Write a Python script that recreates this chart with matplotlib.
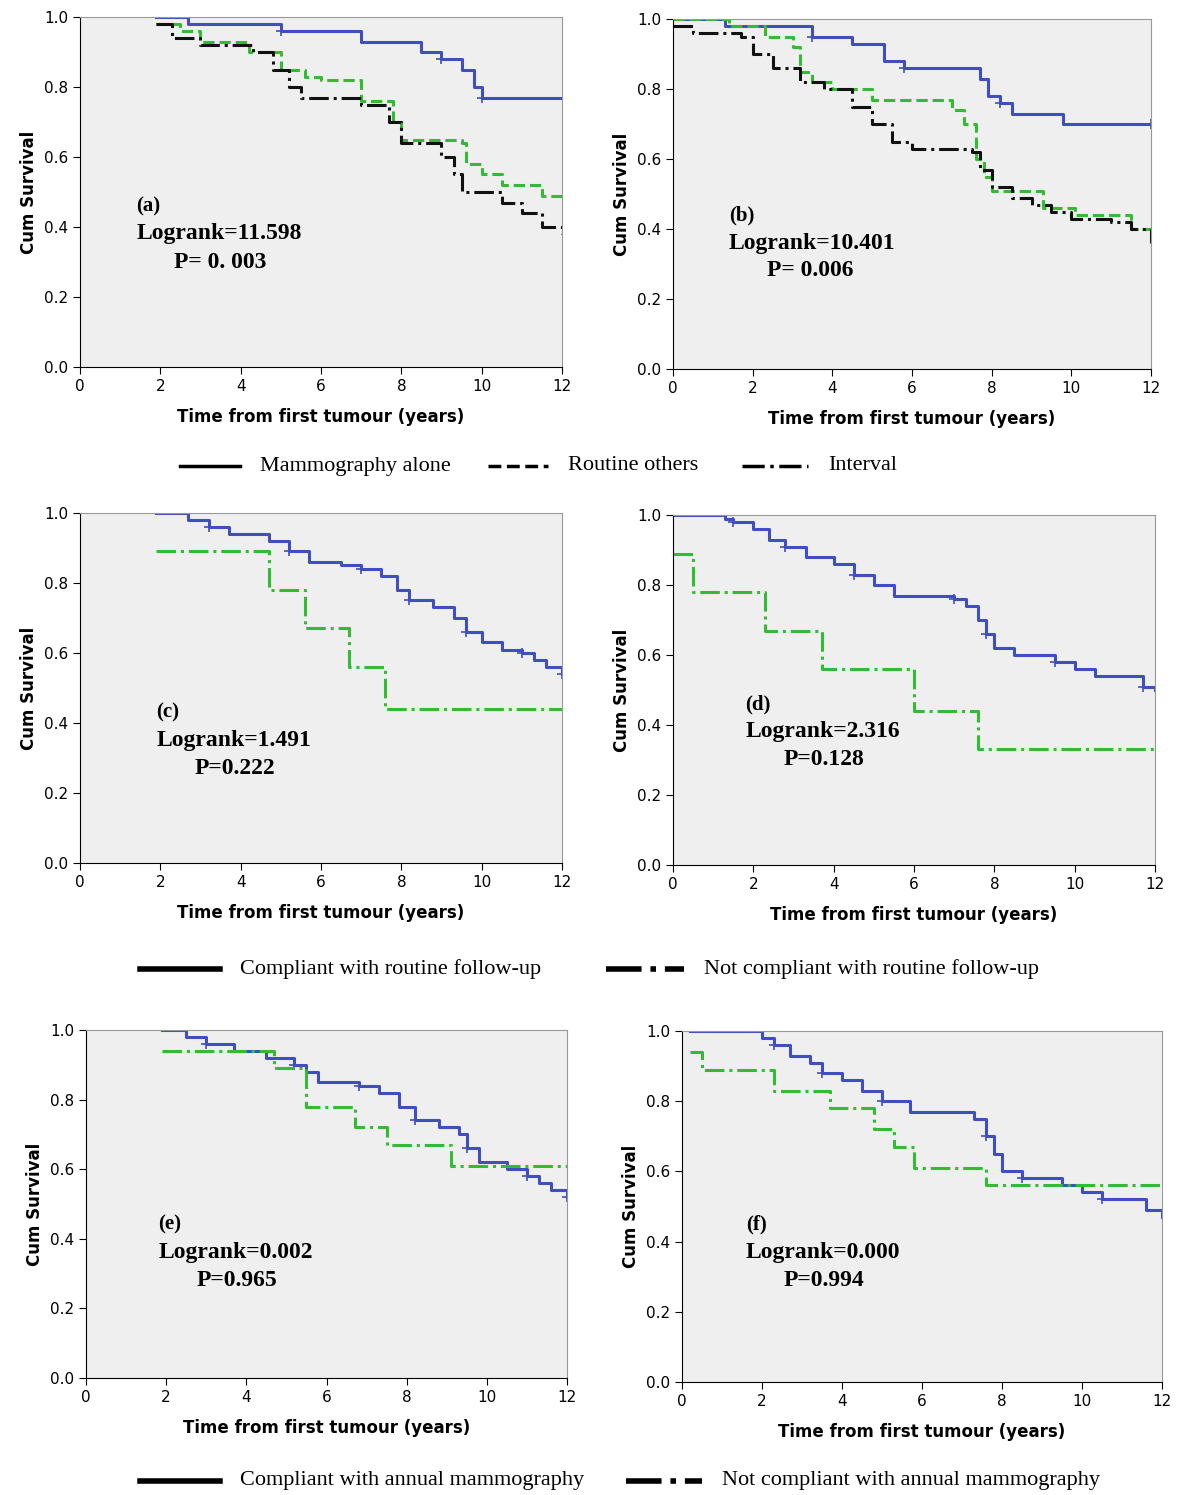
import matplotlib
matplotlib.use("Agg")
import matplotlib.pyplot as plt
from matplotlib.lines import Line2D

W, H = 1178, 1495

BLUE = "#3f4fbf"
GREEN = "#33bb33"
BLACK = "#111111"

a_blue_t = [1.9, 2.7, 5.0, 7.0, 8.5, 9.0, 9.5, 9.8, 10.0, 12]
a_blue_s = [1.0, 0.98, 0.96, 0.93, 0.90, 0.88, 0.85, 0.80, 0.77, 0.77]
a_green_t = [1.9, 2.5, 3.0, 4.2, 5.0, 5.6, 6.0, 7.0, 7.8, 8.0, 9.5, 9.6, 10.0, 10.5, 11.5, 12]
a_green_s = [0.98, 0.96, 0.93, 0.90, 0.85, 0.83, 0.82, 0.76, 0.70, 0.65, 0.64, 0.58, 0.55, 0.52, 0.49, 0.49]
a_black_t = [1.9, 2.3, 3.0, 4.3, 4.8, 5.2, 5.5, 7.0, 7.7, 8.0, 9.0, 9.3, 9.5, 10.5, 11.0, 11.5, 12]
a_black_s = [0.98, 0.94, 0.92, 0.90, 0.85, 0.80, 0.77, 0.75, 0.70, 0.64, 0.60, 0.55, 0.50, 0.47, 0.44, 0.40, 0.38]

b_blue_t = [0, 1.3, 3.5, 4.5, 5.3, 5.8, 7.7, 7.9, 8.2, 8.5, 9.8, 12]
b_blue_s = [1.0, 0.98, 0.95, 0.93, 0.88, 0.86, 0.83, 0.78, 0.76, 0.73, 0.70, 0.70]
b_green_t = [0, 1.4, 2.3, 3.0, 3.2, 3.5, 4.0, 5.0, 5.5, 7.0, 7.3, 7.6, 7.8, 8.0, 9.2, 9.3, 10.1, 11.5, 12]
b_green_s = [1.0, 0.98, 0.95, 0.92, 0.85, 0.82, 0.80, 0.77, 0.77, 0.74, 0.70, 0.60, 0.55, 0.51, 0.51, 0.46, 0.44, 0.40, 0.37]
b_black_t = [0, 0.5, 1.7, 2.0, 2.5, 3.2, 3.8, 4.5, 5.0, 5.5, 6.0, 7.5, 7.7, 8.0, 8.5, 9.0, 9.5, 10.0, 11.0, 11.5, 12]
b_black_s = [0.98, 0.96, 0.95, 0.90, 0.86, 0.82, 0.80, 0.75, 0.70, 0.65, 0.63, 0.62, 0.57, 0.52, 0.49, 0.47, 0.45, 0.43, 0.42, 0.40, 0.36]

c_blue_t = [1.9, 2.7, 3.2, 3.7, 4.7, 5.2, 5.7, 6.5, 7.0, 7.5, 7.9, 8.2, 8.8, 9.3, 9.6, 10.0, 10.5, 11.0, 11.3, 11.6, 12]
c_blue_s = [1.0, 0.98, 0.96, 0.94, 0.92, 0.89, 0.86, 0.85, 0.84, 0.82, 0.78, 0.75, 0.73, 0.70, 0.66, 0.63, 0.61, 0.60, 0.58, 0.56, 0.54]
c_green_t = [1.9, 4.7, 5.6, 6.7, 7.6, 12]
c_green_s = [0.89, 0.78, 0.67, 0.56, 0.44, 0.44]

d_blue_t = [0, 1.3, 1.5, 2.0, 2.4, 2.8, 3.3, 4.0, 4.5, 5.0, 5.5, 7.0, 7.3, 7.6, 7.8, 8.0, 8.5, 9.5, 10.0, 10.5, 11.7, 12]
d_blue_s = [1.0, 0.99, 0.98, 0.96, 0.93, 0.91, 0.88, 0.86, 0.83, 0.80, 0.77, 0.76, 0.74, 0.70, 0.66, 0.62, 0.60, 0.58, 0.56, 0.54, 0.51, 0.50]
d_green_t = [0, 0.5, 2.3, 3.7, 6.0, 7.6, 12]
d_green_s = [0.89, 0.78, 0.67, 0.56, 0.44, 0.33, 0.33]

e_blue_t = [1.9, 2.5, 3.0, 3.7, 4.5, 5.2, 5.5, 5.8, 6.8, 7.3, 7.8, 8.2, 8.8, 9.3, 9.5, 9.8, 10.5, 11.0, 11.3, 11.6, 12]
e_blue_s = [1.0, 0.98, 0.96, 0.94, 0.92, 0.90, 0.88, 0.85, 0.84, 0.82, 0.78, 0.74, 0.72, 0.70, 0.66, 0.62, 0.60, 0.58, 0.56, 0.54, 0.52]
e_green_t = [1.9, 4.7, 5.5, 6.7, 7.5, 9.1, 12]
e_green_s = [0.94, 0.89, 0.78, 0.72, 0.67, 0.61, 0.61]

f_blue_t = [0.2, 2.0, 2.3, 2.7, 3.2, 3.5, 4.0, 4.5, 5.0, 5.7, 7.3, 7.6, 7.8, 8.0, 8.5, 9.5, 10.0, 10.5, 11.6, 12]
f_blue_s = [1.0, 0.98, 0.96, 0.93, 0.91, 0.88, 0.86, 0.83, 0.80, 0.77, 0.75, 0.70, 0.65, 0.60, 0.58, 0.56, 0.54, 0.52, 0.49, 0.47]
f_green_t = [0.2, 0.5, 2.3, 3.7, 4.8, 5.3, 5.8, 7.6, 12]
f_green_s = [0.94, 0.89, 0.83, 0.78, 0.72, 0.67, 0.61, 0.56, 0.56]

panels = [
    ("(a)", "Logrank=11.598", "P= 0. 003", (80, 17, 562, 367), (1.4, 0.46),
     [(a_blue_t, a_blue_s, BLUE, "-"), (a_green_t, a_green_s, GREEN, "--"), (a_black_t, a_black_s, BLACK, "-.")]),
    ("(b)", "Logrank=10.401", "P= 0.006", (673, 19, 1151, 369), (1.4, 0.44),
     [(b_blue_t, b_blue_s, BLUE, "-"), (b_green_t, b_green_s, GREEN, "--"), (b_black_t, b_black_s, BLACK, "-.")]),
    ("(c)", "Logrank=1.491", "P=0.222", (80, 513, 562, 863), (1.9, 0.43),
     [(c_blue_t, c_blue_s, BLUE, "-"), (c_green_t, c_green_s, GREEN, "-.")]),
    ("(d)", "Logrank=2.316", "P=0.128", (673, 515, 1155, 865), (1.8, 0.46),
     [(d_blue_t, d_blue_s, BLUE, "-"), (d_green_t, d_green_s, GREEN, "-.")]),
    ("(e)", "Logrank=0.002", "P=0.965", (86, 1030, 567, 1378), (1.8, 0.44),
     [(e_blue_t, e_blue_s, BLUE, "-"), (e_green_t, e_green_s, GREEN, "-.")]),
    ("(f)", "Logrank=0.000", "P=0.994", (682, 1031, 1162, 1382), (1.6, 0.45),
     [(f_blue_t, f_blue_s, BLUE, "-"), (f_green_t, f_green_s, GREEN, "-.")]),
]

fig = plt.figure(figsize=(W / 100, H / 100), dpi=100)
serif = "Liberation Serif"

for lab, lr, p, (x0, y0, x1, y1), (tx, ty), curves in panels:
    ax = fig.add_axes([x0 / W, 1 - y1 / H, (x1 - x0) / W, (y1 - y0) / H])
    ax.set_facecolor("#efefef")
    for t, s, col, ls in curves:
        ax.step(t, s, where="post", color=col, ls=ls, lw=2.2)
        if col == BLUE:
            cens = t[2::3]
            vals = [s[i] for i in range(2, len(t), 3)]
            ax.plot(cens, vals, "+", color=col, ms=7, mew=1.2)
    ax.set_xlim(0, 12)
    ax.set_ylim(0, 1.0)
    ax.set_xticks(range(0, 13, 2))
    ax.set_yticks([0, 0.2, 0.4, 0.6, 0.8, 1.0])
    ax.set_yticklabels(["0.0", "0.2", "0.4", "0.6", "0.8", "1.0"])
    ax.tick_params(labelsize=11, length=5)
    for sp in ["top", "right"]:
        ax.spines[sp].set_color("#999999")
    ax.set_xlabel("Time from first tumour (years)", fontsize=12, fontweight="bold", labelpad=10)
    ax.set_ylabel("Cum Survival", fontsize=12, fontweight="bold")
    ax.text(tx, ty, lab, fontsize=15, fontweight="bold", family=serif, va="center")
    ax.text(tx, ty - 0.08, lr, fontsize=17, fontweight="bold", family=serif, va="center")
    ax.text(tx + 0.95, ty - 0.16, p, fontsize=17, fontweight="bold", family=serif, va="center")

def legend_item(x0, x1, y, ls, label, lw=2.5):
    fig.add_artist(Line2D([x0 / W, x1 / W], [1 - y / H, 1 - y / H], color="black", ls=ls, lw=lw))
    fig.text((x1 + 20) / W, 1 - y / H, label, fontsize=16, family=serif, va="center")

legend_item(180, 240, 466, "-", "Mammography alone")
legend_item(488, 548, 466, "--", "Routine others")
legend_item(742, 808, 466, "-.", "Interval")
legend_item(140, 220, 969, "-", "Compliant with routine follow-up", lw=4)
legend_item(606, 684, 969, "-.", "Not compliant with routine follow-up", lw=4)
legend_item(140, 220, 1481, "-", "Compliant with annual mammography", lw=4)
legend_item(626, 702, 1481, "-.", "Not compliant with annual mammography", lw=4)

fig.savefig("out.png", dpi=100)
